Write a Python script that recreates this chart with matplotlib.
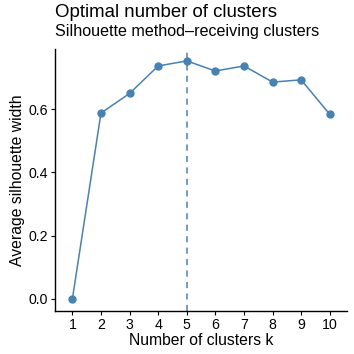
import matplotlib
matplotlib.use("Agg")
import matplotlib.pyplot as plt

plt.rcParams["font.family"] = ["Liberation Sans", "DejaVu Sans"]

# silhouette data
k_values = [1, 2, 3, 4, 5, 6, 7, 8, 9, 10]
avg_width = [0.0, 0.588, 0.650, 0.737, 0.753, 0.721, 0.737, 0.686, 0.693, 0.584]
best_k = 5
y_ticks = [0.0, 0.2, 0.4, 0.6]

COL = "#4682B4"

fig = plt.figure(figsize=(3.54, 3.54), dpi=100)
ax = fig.add_axes([0.156, 0.122, 0.824, 0.739])

ax.axvline(best_k, color=COL, lw=1.1, ls=(0, (4, 3.5)))
ax.plot(k_values, avg_width, color=COL, lw=1.1, marker="o", ms=5, zorder=3)

ax.set_xlim(0.4, 10.6)
ax.set_ylim(-0.0377, 0.790)
ax.set_xticks(k_values)
ax.set_xticklabels([str(k) for k in k_values])
ax.set_yticks(y_ticks)
ax.set_yticklabels([f"{v:.1f}" for v in y_ticks])

for s in ["top", "right"]:
    ax.spines[s].set_visible(False)
for s in ["left", "bottom"]:
    ax.spines[s].set_linewidth(1.0)
ax.tick_params(labelsize=10.2, length=3, width=0.8, colors="black", pad=2)

ax.set_xlabel("Number of clusters k", fontsize=11.3, labelpad=1)
ax.set_ylabel("Average silhouette width", fontsize=11.3, labelpad=3)

fig.text(0.156, 0.952, "Optimal number of clusters", fontsize=13.4, ha="left", va="baseline")
fig.text(0.156, 0.898, "Silhouette method\u2013receiving clusters", fontsize=11.6,
         ha="left", va="baseline")

fig.savefig("out.png", dpi=100)
